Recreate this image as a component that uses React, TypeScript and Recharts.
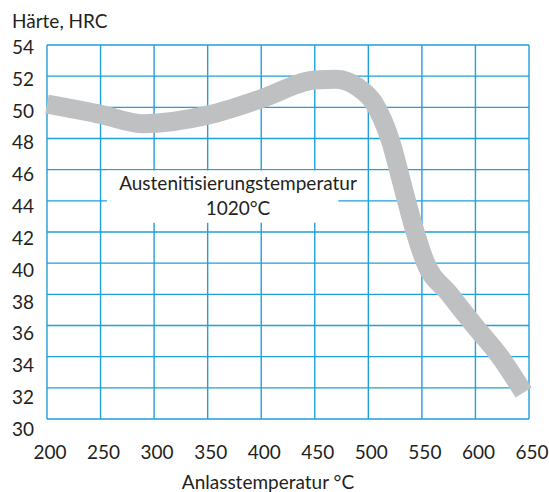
import React from "react";
import {
  LineChart,
  Line,
  XAxis,
  YAxis,
  CartesianGrid,
  ReferenceArea,
} from "recharts";

// Anlasstemperatur (°C) und Härte (HRC)
const temps = [200, 250, 290, 350, 400, 450, 470, 490, 505, 520, 533, 542, 553, 576, 599, 623, 645];
const hardness = [50.2, 49.55, 48.95, 49.5, 50.55, 51.75, 51.8, 51.3, 50.3, 48.0, 44.7, 42.4, 40.1, 38.0, 36.0, 34.0, 31.7];

const xTicks = [200, 250, 300, 350, 400, 450, 500, 550, 600, 650];
const yTicks = [30, 32, 34, 36, 38, 40, 42, 44, 46, 48, 50, 52, 54];

const labelLines = ["Austenitisierungstemperatur", "1020°C"];

const data = temps.map((t, i) => ({ t, hrc: hardness[i] }));

const FONT = "Lato, 'Open Sans', sans-serif";
const TEXT = "#231f20";
const GRID = "#1f9fdb";

const YTick = ({ y, payload }: any) => (
  <text
    x={12}
    y={y + 2 + (54 - payload.value) * 0.33 + 7}
    fontSize={19}
    fontFamily={FONT}
    fill={TEXT}
    textAnchor="start"
  >
    {payload.value}
  </text>
);

const XTick = ({ x, payload }: any) => (
  <text x={x + 3} y={459} fontSize={19} fontFamily={FONT} fill={TEXT} textAnchor="middle">
    {payload.value}
  </text>
);

const BoxLabel = ({ viewBox }: any) => {
  const cx = viewBox.x + 131;
  return (
    <g fontFamily={FONT} fontSize={19} fill={TEXT} textAnchor="middle">
      <text x={cx} y={viewBox.y + 20}>{labelLines[0]}</text>
      <text x={cx} y={viewBox.y + 45}>{labelLines[1]}</text>
    </g>
  );
};

export default function App() {
  return (
    <div style={{ position: "absolute", left: 0, top: 0, width: 549, height: 492, background: "#fff" }}>
      <LineChart
        width={549}
        height={492}
        data={data}
        margin={{ top: 45, right: 20, bottom: 0, left: 0 }}
      >
        <XAxis
          dataKey="t"
          type="number"
          domain={[200, 650]}
          ticks={xTicks}
          axisLine={false}
          tickLine={false}
          tick={<XTick />}
          height={73}
        />
        <YAxis
          type="number"
          domain={[30, 54]}
          ticks={yTicks}
          axisLine={false}
          tickLine={false}
          tick={<YTick />}
          width={47}
        />
        <Line
          type="monotone"
          dataKey="hrc"
          stroke="#bfc0c2"
          strokeWidth={19}
          strokeLinecap="butt"
          strokeLinejoin="round"
          dot={false}
          activeDot={false}
          isAnimationActive={false}
        />
        <CartesianGrid stroke={GRID} strokeWidth={1.4} fill="none" />
        <ReferenceArea
          x1={256}
          x2={472}
          y1={42.6}
          y2={45.95}
          fill="#fff"
          fillOpacity={1}
          stroke="none"
          label={<BoxLabel />}
        />
        <text x={12} y={28} fontSize={19} fontFamily={FONT} fill={TEXT}>
          Härte, HRC
        </text>
        <text x={268} y={489} fontSize={19} fontFamily={FONT} fill={TEXT} textAnchor="middle">
          Anlasstemperatur °C
        </text>
      </LineChart>
    </div>
  );
}
